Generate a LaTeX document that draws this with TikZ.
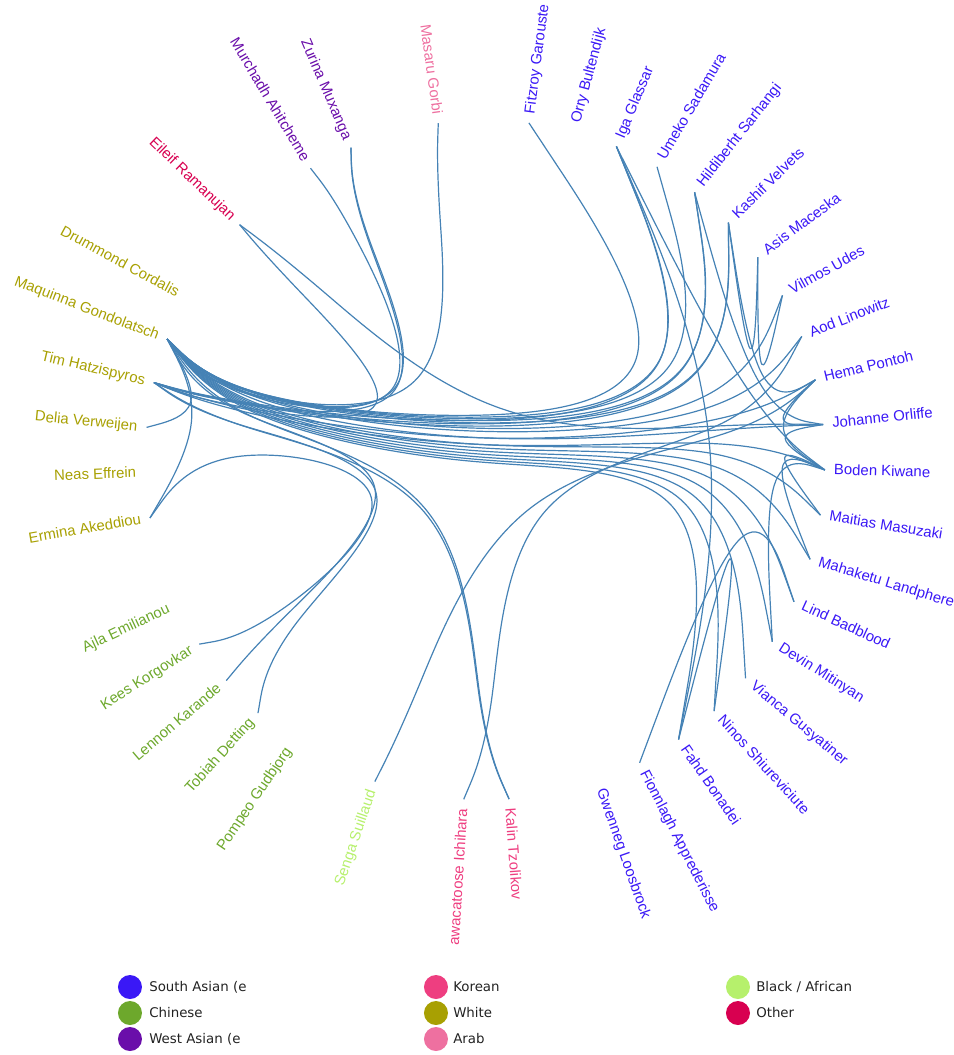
\documentclass[tikz,border=0pt]{standalone}
\usepackage{fontspec}
\setmainfont{Liberation Sans}
\newfontfamily\keyfont{DejaVu Sans}
\usepackage{xcolor}
\usepackage{tikz}
\usetikzlibrary{calc}
\definecolor{southasian}{HTML}{3A18F6}
\definecolor{chinese}{HTML}{6DA82C}
\definecolor{westasian}{HTML}{6A0EAA}
\definecolor{korean}{HTML}{EE3E80}
\definecolor{whitegrp}{HTML}{A8A002}
\definecolor{arab}{HTML}{EE70A0}
\definecolor{blackgrp}{HTML}{B6F06C}
\definecolor{other}{HTML}{D80050}
\definecolor{steelblue}{rgb}{0.27, 0.51, 0.71}
\definecolor{keytext}{HTML}{222222}

% leaf - hub - root - hub - leaf, straightened b-spline
\newcommand{\bundle}[4]{%
  \path ($(#1)!0.25!(#4)$) coordinate (l1) ($(#1)!0.5!(#4)$) coordinate (l2)
        ($(#1)!0.75!(#4)$) coordinate (l3);
  \path ($(#2)!0.15!(l1)$) coordinate (b1) ($(O)!0.15!(l2)$) coordinate (b2)
        ($(#3)!0.15!(l3)$) coordinate (b3);
  \draw[link] (#1) -- ($5/6*(#1)+1/6*(b1)$)
    .. controls ($2/3*(#1)+1/3*(b1)$) and ($1/3*(#1)+2/3*(b1)$) .. ($1/6*(#1)+2/3*(b1)+1/6*(b2)$)
    .. controls ($2/3*(b1)+1/3*(b2)$) and ($1/3*(b1)+2/3*(b2)$) .. ($1/6*(b1)+2/3*(b2)+1/6*(b3)$)
    .. controls ($2/3*(b2)+1/3*(b3)$) and ($1/3*(b2)+2/3*(b3)$) .. ($1/6*(b2)+2/3*(b3)+1/6*(#4)$)
    .. controls ($2/3*(b3)+1/3*(#4)$) and ($1/3*(b3)+2/3*(#4)$) .. ($1/6*(b3)+5/6*(#4)$) -- (#4);
}
% leaf - hub - leaf
\newcommand{\twig}[3]{%
  \path ($(#1)!0.5!(#3)$) coordinate (l2);
  \path ($(#2)!0.15!(l2)$) coordinate (b1);
  \draw[link] (#1) -- ($5/6*(#1)+1/6*(b1)$)
    .. controls ($2/3*(#1)+1/3*(b1)$) and ($1/3*(#1)+2/3*(b1)$) .. ($1/6*(#1)+2/3*(b1)+1/6*(#3)$)
    .. controls ($2/3*(b1)+1/3*(#3)$) and ($1/3*(b1)+2/3*(#3)$) .. ($1/6*(b1)+5/6*(#3)$) -- (#3);
}

\begin{document}
\begin{tikzpicture}[x=0.025cm, y=0.025cm,
    link/.style={draw=steelblue, line width=0.85pt},
    leaflabel/.style={inner sep=0pt, text height=0.62em, text depth=0pt, font=\fontsize{10.6}{12}\selectfont},
    keydot/.style={circle, inner sep=0pt, minimum size=0.6cm},
    keylabel/.style={anchor=west, inner sep=0pt, text=keytext, font=\keyfont\fontsize{9.5}{11}\selectfont}]

\useasboundingbox (-485,-595) rectangle (469,460);
\coordinate (O) at (0,0);

% right half of the ring
\foreach \k/\nm/\txt/\col in {2/fitzroy/Fitzroy Garouste/southasian, 3/orry/Orry Bultendijk/southasian,
    4/iga/Iga Glassar/southasian, 5/umeko/Umeko Sadamura/southasian, 6/hild/Hildiberht Sarhangi/southasian,
    7/kashif/Kashif Velvets/southasian, 8/asis/Asis Maceska/southasian, 9/vilmos/Vilmos Udes/southasian,
    10/aod/Aod Linowitz/southasian, 11/hema/Hema Pontoh/southasian, 12/johanne/Johanne Orliffe/southasian,
    13/boden/Boden Kiwane/southasian, 14/maitias/Maitias Masuzaki/southasian,
    15/mahaketu/Mahaketu Landphere/southasian, 16/lind/Lind Badblood/southasian,
    17/devin/Devin Mitinyan/southasian, 18/vianca/Vianca Gusyatiner/southasian,
    19/ninos/Ninos Shiureviciute/southasian, 20/fahd/Fahd Bonadei/southasian,
    21/fionn/Fionnlagh Apprederisse/southasian, 22/gwenneg/Gwenneg Loosbrock/southasian,
    24/kalin/Kalin Tzolikov/korean}
{
  \pgfmathsetmacro{\ang}{97.9-\k*360/47}
  \coordinate (\nm) at (\ang:340);
  \node[leaflabel, anchor=west, rotate=\ang, text=\col] (\nm-t) at (\ang:349) {\txt};
}

% left half of the ring
\foreach \k/\nm/\txt/\col in {0/masaru/Masaru Gorbi/arab, 25/awaca/awacatoose Ichihara/korean,
    27/senga/Senga Suillaud/blackgrp, 29/pompeo/Pompeo Gudbjorg/chinese, 30/tobiah/Tobiah Detting/chinese,
    31/lennon/Lennon Karande/chinese, 32/kees/Kees Korgovkar/chinese, 33/ajla/Ajla Emilianou/chinese,
    35/ermina/Ermina Akeddiou/whitegrp, 36/neas/Neas Effrein/whitegrp, 37/delia/Delia Verweijen/whitegrp,
    38/tim/Tim Hatzispyros/whitegrp, 39/maq/Maquinna Gondolatsch/whitegrp,
    40/drummond/Drummond Cordalis/whitegrp,
    42/eileif/Eileif Ramanujan/other, 44/murchadh/Murchadh Ahitcheme/westasian,
    45/zurina/Zurina Muxanga/westasian}
{
  \pgfmathsetmacro{\ang}{97.9-\k*360/47}
  \coordinate (\nm) at (\ang:340);
  \node[leaflabel, anchor=east, rotate=\ang+180, text=\col] (\nm-t) at (\ang:349) {\txt};
}

% group hubs
\coordinate (hS) at ({97.9-12*360/47}:272);
\coordinate (hW) at ({97.9-37.5*360/47}:272);
\coordinate (hC) at ({97.9-31*360/47}:272);
\coordinate (hK) at ({97.9-24.5*360/47}:272);
\coordinate (hB) at ({97.9-27*360/47}:272);
\coordinate (hA) at (97.9:272);
\coordinate (hO) at ({97.9-42*360/47}:272);
\coordinate (hWA) at ({97.9-44.5*360/47}:272);

\foreach \s in {iga,umeko,hild,kashif,vilmos,aod,johanne,maitias,mahaketu,lind,devin,vianca,ninos,fahd,fitzroy}
  {\bundle{maq}{hW}{hS}{\s}}
\foreach \s in {iga,hild,kashif,boden,hema}
  {\bundle{tim}{hW}{hS}{\s}}
\bundle{maq}{hW}{hK}{kalin}
\bundle{tim}{hW}{hK}{kalin}
\bundle{ermina}{hW}{hC}{kees}
\bundle{maq}{hW}{hC}{lennon}
\bundle{tim}{hW}{hC}{tobiah}
\bundle{masaru}{hA}{hW}{maq}
\bundle{zurina}{hWA}{hW}{maq}
\bundle{zurina}{hWA}{hW}{tim}
\bundle{murchadh}{hWA}{hW}{maq}
\bundle{eileif}{hO}{hW}{tim}
\bundle{eileif}{hO}{hS}{johanne}
\bundle{senga}{hB}{hS}{hema}
\bundle{awaca}{hK}{hS}{aod}

\twig{maq}{hW}{delia}
\twig{maq}{hW}{ermina}
\twig{kashif}{hS}{asis}
\twig{asis}{hS}{vilmos}
\twig{kashif}{hS}{hema}
\twig{hema}{hS}{johanne}
\twig{hema}{hS}{boden}
\twig{johanne}{hS}{boden}
\twig{hild}{hS}{johanne}
\twig{iga}{hS}{boden}
\twig{iga}{hS}{fahd}
\twig{boden}{hS}{maitias}
\twig{boden}{hS}{mahaketu}
\twig{devin}{hS}{boden}
\twig{lind}{hS}{fionn}
\twig{ninos}{hS}{fahd}

% legend
\node[keydot, fill=southasian] (k1) at (-355,-527) {};
\node[keydot, fill=chinese] (k2) at (-355,-553) {};
\node[keydot, fill=westasian] (k3) at (-355,-579) {};
\node[keydot, fill=korean] (k4) at (-49,-527) {};
\node[keydot, fill=whitegrp] (k5) at (-49,-553) {};
\node[keydot, fill=arab] (k6) at (-49,-579) {};
\node[keydot, fill=blackgrp] (k7) at (253,-527) {};
\node[keydot, fill=other] (k8) at (253,-553) {};
\node[keylabel] (k1-t) at (-336,-527) {South Asian (e};
\node[keylabel] (k2-t) at (-336,-553) {Chinese};
\node[keylabel] (k3-t) at (-336,-579) {West Asian (e};
\node[keylabel] (k4-t) at (-32,-527) {Korean};
\node[keylabel] (k5-t) at (-32,-553) {White};
\node[keylabel] (k6-t) at (-32,-579) {Arab};
\node[keylabel] (k7-t) at (271,-527) {Black / African};
\node[keylabel] (k8-t) at (271,-553) {Other};

\end{tikzpicture}
\end{document}
